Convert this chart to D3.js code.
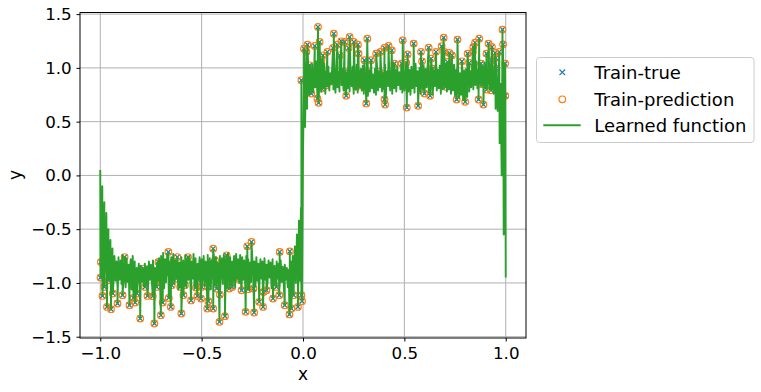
<!DOCTYPE html>
<html>
<head>
<meta charset="utf-8">
<script src="https://cdn.jsdelivr.net/npm/d3@7"></script>
<style>
  body { margin: 0; background: #fff; }
  svg { display: block; font-family: "DejaVu Sans", sans-serif; }
</style>
</head>
<body>
<svg id="svg" width="761" height="392"></svg>
<script>
/* global d3 */

// training samples (predictions sit right on top of them)
const trainX = [
  -0.880, -0.664, -0.620, -0.567, -0.997, -0.975, -0.923, -0.885, -0.999, -0.980,
  -0.989, -0.967, -0.947, -0.938, -0.915, -0.890, -0.856, -0.828, -0.836, -0.819,
  -0.779, -0.767, -0.741, -0.721, -0.803, -0.733, -0.701, -0.692, -0.662, -0.652,
  -0.600, -0.590, -0.552, -0.521, -0.528, -0.623, -0.582, -0.557, -0.647, -0.606,
  -0.754, -0.787, -0.833, -0.877, -0.910, -0.935, -0.959, -0.697, -0.713, -0.639,
  -0.729, -0.443, -0.275, -0.254, -0.115, -0.065, -0.377, -0.434, -0.500, -0.470,
  -0.503, -0.467, -0.472, -0.443, -0.410, -0.426, -0.412, -0.385, -0.364, -0.349,
  -0.339, -0.320, -0.303, -0.271, -0.283, -0.241, -0.216, -0.197, -0.244, -0.195,
  -0.180, -0.148, -0.131, -0.117, -0.090, -0.087, -0.067, -0.057, -0.046, -0.025,
  -0.005, -0.008, -0.322, -0.336, -0.394, -0.516,
  0.074, 0.152, 0.230, 0.317, 0.492, 0.022, 0.005, 0.017, 0.058, 0.082,
  0.148, 0.169, 0.189, 0.205, 0.251, 0.271, 0.274, 0.225, 0.120, 0.098,
  0.181, 0.361, 0.382, 0.402, 0.422, 0.438, 0.303, 0.336, 0.451, 0.487,
  0.033, 0.091, -0.008, 0.058, 0.123, 0.205, 0.320, 0.377, 0.410, 0.451,
  0.091, 0.115, 0.263, 0.287, 0.213, 0.402, 0.405, 0.312, 0.071, 0.077,
  0.041, 0.131, 0.353, 0.984, 0.694, 0.762, 0.869, 0.546, 0.620, 0.684,
  0.915, 0.932, 0.987, 0.849, 0.840, 0.838, 0.582, 0.516, 0.656, 0.697,
  0.722, 0.735, 0.812, 0.905, 0.948, 0.968, 0.951, 0.930, 0.632, 0.587,
  0.509, 0.784, 0.713, 0.820, 0.878, 0.997, 0.639, 0.953, 0.804, 0.653,
  0.599, 0.627, 0.512, 0.568, 0.758, 0.800, 0.866, 0.890, 0.705, 0.741,
  0.774, 0.882, 0.906, 0.927, 0.998, 0.806
];
const trainY = [
  -0.759, -0.712, -0.759, -0.759, -0.805, -0.866, -0.836, -0.851, -0.950, -1.037,
  -1.121, -1.223, -1.244, -1.098, -1.191, -1.114, -1.207, -1.182, -1.139, -1.098,
  -1.037, -1.121, -1.123, -1.037, -1.331, -1.377, -1.300, -1.182, -1.139, -1.223,
  -1.284, -1.114, -1.163, -1.121, -1.043, -0.959, -1.021, -0.922, -1.021, -1.037,
  -0.866, -0.866, -1.037, -0.959, -0.898, -0.929, -0.975, -0.991, -0.805, -0.805,
  -0.929, -0.681, -0.659, -0.619, -0.712, -0.706, -0.743, -0.789, -1.037, -1.037,
  -1.145, -1.170, -1.238, -1.238, -1.108, -1.052, -1.362, -1.309, -1.052, -1.037,
  -0.959, -0.959, -1.068, -1.058, -1.269, -1.275, -1.176, -1.223, -1.052, -1.084,
  -1.068, -1.145, -1.037, -1.114, -1.207, -0.898, -1.293, -1.238, -1.114, -1.223,
  -1.170, -1.114, -0.851, -0.898, -0.929, -0.975,
  1.381, 1.318, 1.288, 1.272, 1.256, 1.216, 1.179, 1.149, 1.204, 1.241,
  1.186, 1.216, 1.247, 1.241, 1.241, 1.216, 1.133, 1.186, 1.149, 1.117,
  1.117, 1.133, 1.149, 1.186, 1.204, 1.163, 1.071, 1.071, 1.040, 1.040,
  1.024, 1.071, 0.885, 0.947, 0.901, 0.963, 0.963, 0.963, 0.931, 0.947,
  0.808, 0.838, 0.824, 0.838, 0.740, 0.708, 0.659, 0.669, 0.715, 0.675,
  0.761, 0.870, 0.854, 1.356, 1.281, 1.263, 1.272, 1.226, 1.188, 1.201,
  1.226, 1.195, 1.219, 1.235, 1.195, 1.149, 1.149, 1.126, 1.149, 1.149,
  1.139, 1.117, 1.133, 1.133, 1.139, 1.149, 1.093, 1.071, 1.086, 1.061,
  1.049, 1.061, 1.056, 1.046, 1.040, 1.040, 0.993, 0.993, 0.954, 0.963,
  0.761, 0.740, 0.631, 0.647, 0.706, 0.684, 0.706, 0.659, 0.824, 0.824,
  0.798, 0.848, 0.798, 0.792, 0.740, 0.916
];

// learned function between the samples, on a 0.005 grid from -1 to 1
const gridY = [
  0.05, -0.6, -0.1, -0.65, -0.25, -0.7, -0.35, -0.8, -0.5, -0.9, -0.6, -0.95, -0.68, -1.0, -0.75, -0.98, -0.8, -1.03, -0.76, -0.97,
  -0.79, -1.01, -0.74, -0.95, -0.81, -1.04, -0.77, -0.99, -0.83, -0.93, -0.78, -1.06, -0.75, -0.98, -0.8, -1.02, -0.86, -0.96, -0.82, -1.05,
  -0.84, -0.99, -0.87, -1.03, -0.82, -0.95, -0.85, -1.07, -0.8, -0.97, -0.83, -1.01, -0.79, -0.94, -0.86, -1.04, -0.81, -0.98, -0.77, -1.02,
  -0.75, -0.96, -0.72, -1.05, -0.78, -0.99, -0.74, -0.93, -0.8, -1.03, -0.76, -0.97, -0.73, -1.01, -0.79, -0.95, -0.77, -1.06, -0.81, -0.98,
  -0.76, -1.0, -0.79, -0.94, -0.74, -1.04, -0.78, -0.97, -0.75, -1.02, -0.8, -0.96, -0.73, -1.05, -0.77, -0.99, -0.82, -0.93, -0.76, -1.01,
  -0.78, -0.97, -0.75, -1.03, -0.8, -0.95, -0.74, -1.0, -0.77, -1.06, -0.79, -0.96, -0.73, -1.02, -0.76, -0.98, -0.81, -1.04, -0.75, -0.94,
  -0.77, -1.01, -0.74, -0.97, -0.79, -1.05, -0.72, -0.95, -0.76, -1.02, -0.8, -0.98, -0.75, -1.04, -0.73, -0.96, -0.78, -1.0, -0.74, -1.03,
  -0.76, -0.97, -0.79, -1.02, -0.75, -0.95, -0.78, -1.06, -0.81, -0.99, -0.77, -0.94, -0.8, -1.03, -0.76, -0.98, -0.82, -1.01, -0.78, -0.96,
  -0.8, -1.04, -0.77, -0.97, -0.83, -1.0, -0.79, -0.95, -0.81, -1.05, -0.78, -0.98, -0.84, -1.02, -0.8, -0.96, -0.82, -1.03, -0.79, -0.99,
  -0.85, -1.01, -0.83, -0.97, -0.86, -1.04, -0.88, -1.0, -0.8, -1.02, -0.75, -0.98, -0.66, -1.0, -0.55, -0.95, -0.42, -0.98, -0.3, -0.9,
  0.2, 0.9, 0.45, 1.0, 0.62, 1.05, 0.75, 0.98, 0.8, 1.03, 0.77, 0.96, 0.82, 1.06, 0.79, 0.99, 0.84, 1.02, 0.78, 0.95,
  0.81, 1.04, 0.76, 0.97, 0.83, 1.01, 0.79, 0.95, 0.85, 1.05, 0.8, 0.98, 0.77, 1.02, 0.82, 0.96, 0.78, 1.03, 0.84, 0.99,
  0.79, 1.0, 0.75, 0.96, 0.81, 1.04, 0.78, 0.94, 0.83, 1.01, 0.76, 0.97, 0.8, 1.03, 0.77, 0.95, 0.82, 0.99, 0.79, 1.02,
  0.76, 0.95, 0.8, 1.0, 0.74, 0.97, 0.78, 1.03, 0.81, 0.94, 0.77, 0.99, 0.75, 1.02, 0.79, 0.96, 0.82, 1.01, 0.78, 0.95,
  0.8, 1.03, 0.77, 0.97, 0.83, 1.0, 0.79, 0.95, 0.76, 1.04, 0.81, 0.98, 0.78, 1.01, 0.84, 0.96, 0.8, 1.02, 0.77, 0.99,
  0.79, 0.96, 0.82, 1.03, 0.78, 0.98, 0.75, 1.01, 0.81, 0.95, 0.77, 1.04, 0.83, 0.97, 0.79, 1.0, 0.76, 0.94, 0.8, 1.02,
  0.78, 0.99, 0.82, 1.03, 0.77, 0.96, 0.8, 1.01, 0.75, 0.97, 0.83, 1.05, 0.79, 0.98, 0.81, 1.02, 0.76, 0.95, 0.8, 1.0,
  0.82, 1.04, 0.78, 0.97, 0.8, 1.01, 0.76, 0.96, 0.79, 1.03, 0.74, 0.98, 0.77, 1.0, 0.72, 0.95, 0.75, 1.02, 0.7, 0.97,
  0.68, 0.99, 0.73, 1.04, 0.78, 0.97, 0.82, 1.05, 0.8, 1.0, 0.84, 1.06, 0.81, 0.98, 0.85, 1.03, 0.83, 1.01, 0.86, 1.05,
  0.82, 1.02, 0.85, 0.99, 0.8, 1.04, 0.8, 1.0, 0.76, 0.98, 0.62, 0.95, 0.6, 0.9, 0.3, 0.85, 0.0, 0.8, -0.55, 0.75,
  -0.95
];

const xTicks = [-1.0, -0.5, 0.0, 0.5, 1.0];
const yTicks = [-1.5, -1.0, -0.5, 0.0, 0.5, 1.0, 1.5];
const legendLabels = ["Train-true", "Train-prediction", "Learned function"];

const blue = "#1f77b4";
const orange = "#ff7f0e";
const green = "#2ca02c";

const plotLeft = 80, plotRight = 526, plotTop = 12.5, plotBottom = 338;

const x = d3.scaleLinear().domain([-1.1, 1.1]).range([plotLeft, plotRight]);
const y = d3.scaleLinear().domain([-1.512, 1.515]).range([plotBottom, plotTop]);

const svg = d3.select("#svg");

// grid
const grid = svg.append("g").attr("stroke", "#b0b0b0").attr("stroke-width", 1);
grid.selectAll(".gx").data(xTicks).join("line").attr("class", "gx")
  .attr("x1", d => x(d)).attr("x2", d => x(d))
  .attr("y1", plotTop).attr("y2", plotBottom);
grid.selectAll(".gy").data(yTicks).join("line").attr("class", "gy")
  .attr("y1", d => y(d)).attr("y2", d => y(d))
  .attr("x1", plotLeft).attr("x2", plotRight);

const samples = trainX.map((v, i) => [v, trainY[i]]);

// Train-true
const cross = 2.8;
const crossPath = (cx, cy) =>
  `M${cx - cross},${cy - cross}L${cx + cross},${cy + cross}M${cx - cross},${cy + cross}L${cx + cross},${cy - cross}`;

svg.append("g").selectAll("path").data(samples).join("path")
  .attr("d", d => crossPath(x(d[0]), y(d[1])))
  .attr("stroke", blue).attr("stroke-width", 1.2).attr("fill", "none");

// Train-prediction
svg.append("g").selectAll("circle").data(samples).join("circle")
  .attr("cx", d => x(d[0])).attr("cy", d => y(d[1])).attr("r", 3.3)
  .attr("fill", "none").attr("stroke", orange).attr("stroke-width", 1.2);

// Learned function: grid values plus the samples it passes through
const gridPts = gridY.map((v, i) => [-1 + i / 200, v]);
const curve = gridPts.concat(samples).sort((a, b) => a[0] - b[0]);

svg.append("path").datum(curve)
  .attr("d", d3.line().x(d => x(d[0])).y(d => y(d[1])))
  .attr("fill", "none").attr("stroke", green)
  .attr("stroke-width", 1.9).attr("stroke-linejoin", "round");

// spines
svg.append("rect")
  .attr("x", plotLeft).attr("y", plotTop)
  .attr("width", plotRight - plotLeft).attr("height", plotBottom - plotTop)
  .attr("fill", "none").attr("stroke", "#000").attr("stroke-width", 1);

const fmt = d3.format(".1f");

const xAxis = svg.append("g").attr("transform", `translate(0,${plotBottom})`)
  .call(d3.axisBottom(x).tickValues(xTicks).tickFormat(fmt).tickSize(3.5).tickPadding(5.5));
const yAxis = svg.append("g").attr("transform", `translate(${plotLeft},0)`)
  .call(d3.axisLeft(y).tickValues(yTicks).tickFormat(fmt).tickSize(3.5).tickPadding(4.8));

[xAxis, yAxis].forEach(a => {
  a.select(".domain").remove();
  a.selectAll("text").attr("font-size", 16.7).attr("fill", "#000")
    .attr("font-family", "DejaVu Sans, sans-serif");
  a.selectAll(".tick line").attr("stroke", "#000").attr("stroke-width", 1);
});

svg.append("text").attr("x", (plotLeft + plotRight) / 2).attr("y", 380)
  .attr("text-anchor", "middle").attr("font-size", 17).text("x");
svg.append("text").attr("transform", "translate(21,175) rotate(-90)")
  .attr("text-anchor", "middle").attr("font-size", 17).text("y");

// legend
const lg = svg.append("g");
lg.append("rect").attr("x", 536.5).attr("y", 57.5).attr("width", 217.5).attr("height", 85)
  .attr("rx", 3).attr("fill", "#fff").attr("fill-opacity", 0.8)
  .attr("stroke", "#cccccc").attr("stroke-width", 1);

const rows = [72.3, 99.3, 125.3];
const mx = 562.3;
lg.append("path").attr("d", crossPath(mx, rows[0]))
  .attr("stroke", blue).attr("stroke-width", 1.2);
lg.append("circle").attr("cx", mx).attr("cy", rows[1]).attr("r", 3.3)
  .attr("fill", "none").attr("stroke", orange).attr("stroke-width", 1.2);
lg.append("line").attr("x1", 543.3).attr("x2", 580.7).attr("y1", rows[2]).attr("y2", rows[2])
  .attr("stroke", green).attr("stroke-width", 1.9);

lg.selectAll("text.lbl").data(legendLabels).join("text")
  .attr("class", "lbl")
  .attr("x", 594.3).attr("y", (d, i) => rows[i]).attr("dy", "0.36em")
  .attr("font-size", 18).attr("fill", "#000").text(d => d);
</script>
</body>
</html>
